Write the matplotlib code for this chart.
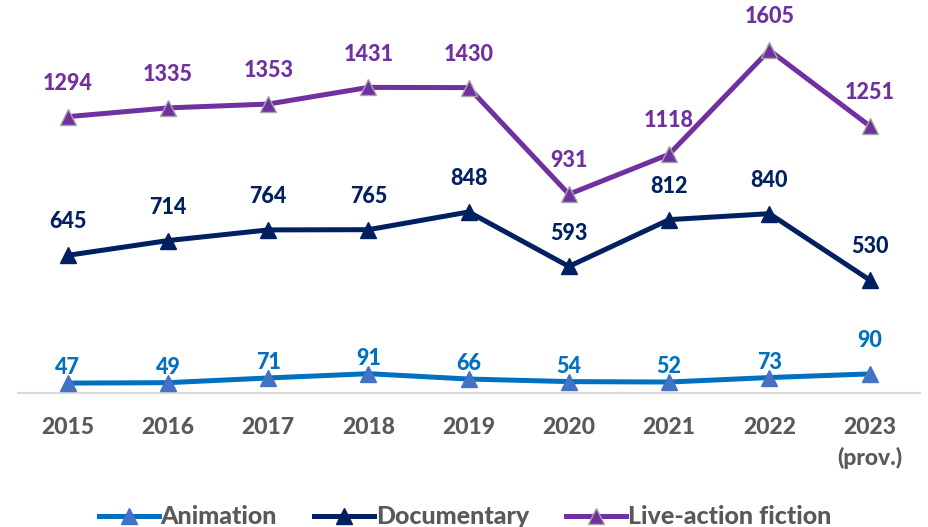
import numpy as np
import matplotlib.pyplot as plt

# data
years = ['2015', '2016', '2017', '2018', '2019', '2020', '2021', '2022', '2023\n(prov.)']
animation = [47, 49, 71, 91, 66, 54, 52, 73, 90]
documentary = [645, 714, 764, 765, 848, 593, 812, 840, 530]
fiction = [1294, 1335, 1353, 1431, 1430, 931, 1118, 1605, 1251]

plt.rcParams['font.family'] = ['Lato', 'DejaVu Sans']

fig = plt.figure(figsize=(9.29, 5.27), dpi=100)
ax = fig.add_axes([0.019, 0.254, 0.971, 0.746])

x = np.arange(len(years))

series = [
    ('Animation', animation, '#0070C0', '#4472C4', '#4472C4'),
    ('Documentary', documentary, '#002060', '#002060', '#002060'),
    ('Live-action fiction', fiction, '#7030A0', '#7030A0', '#A6A6A6'),
]

for name, vals, col, mfc, mec in series:
    ax.plot(x, vals, color=col, lw=3.6, marker='^', markersize=11,
            markerfacecolor=mfc, markeredgecolor=mec, markeredgewidth=1,
            label=name, zorder=3)

# data labels
for i, v in enumerate(animation):
    off = 24 if i == len(animation) - 1 else 11
    ax.annotate(str(v), (i, v), xytext=(0, off), textcoords='offset points',
                ha='center', va='center', color='#0070C0', fontsize=15.5,
                fontweight='black')
for i, v in enumerate(documentary):
    ax.annotate(str(v), (i, v), xytext=(0, 24), textcoords='offset points',
                ha='center', va='center', color='#002060', fontsize=15.5,
                fontweight='black')
for i, v in enumerate(fiction):
    ax.annotate(str(v), (i, v), xytext=(0, 24), textcoords='offset points',
                ha='center', va='center', color='#7030A0', fontsize=15.5,
                fontweight='black')

ax.set_xlim(-0.5, 8.5)
ax.set_ylim(0, 1840)
ax.set_yticks([])
ax.set_xticks(x)
ax.set_xticklabels(years, fontsize=16.5, fontweight='black', color='#595959',
                   linespacing=1.5)
ax.tick_params(axis='x', length=0, pad=17)
for s in ['top', 'right', 'left']:
    ax.spines[s].set_visible(False)
ax.spines['bottom'].set_color('#D9D9D9')
ax.spines['bottom'].set_linewidth(1.5)

leg = ax.legend(loc='center', bbox_to_anchor=(0.496, -0.315), ncol=3,
                frameon=False, handlelength=2.4, columnspacing=1.5,
                handletextpad=0.05,
                prop={'size': 18, 'weight': 'black'})
for t in leg.get_texts():
    t.set_color('#595959')

fig.savefig('out.png', dpi=100)
